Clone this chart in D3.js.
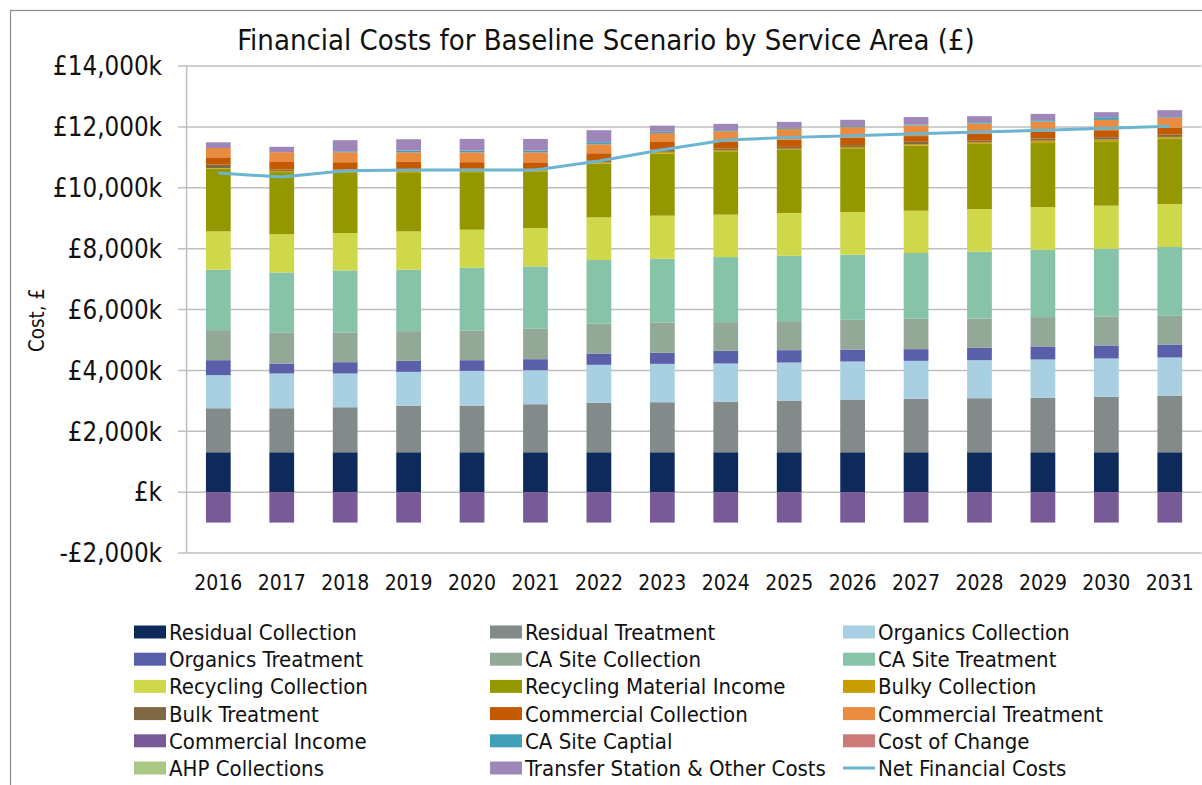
<!DOCTYPE html>
<html>
<head>
<meta charset="utf-8">
<script src="https://cdn.jsdelivr.net/npm/d3@7"></script>
<style>
  body { margin: 0; background: #fff; }
  text { font-family: "DejaVu Sans Condensed", "DejaVu Sans", Verdana, sans-serif; fill: #111; }
</style>
</head>
<body>
<script>
// data (values in £k)
var years = ["2016","2017","2018","2019","2020","2021","2022","2023","2024","2025","2026","2027","2028","2029","2030","2031"];

var residualCollection   = [1310,1310,1310,1310,1310,1310,1310,1310,1310,1310,1310,1310,1310,1310,1310,1310];
var residualTreatment    = [1446,1446,1479,1523,1534,1578,1622,1644,1665,1698,1731,1753,1775,1786,1819,1863];
var organicsCollection   = [1086,1141,1108,1118,1140,1118,1250,1261,1250,1250,1250,1250,1250,1261,1261,1250];
var organicsTreatment    = [493,328,372,362,351,362,372,361,417,406,395,384,406,428,428,427];
var caSiteCollection     = [987,1009,976,976,976,998,987,998,943,954,976,998,965,965,953,943];
var caSiteTreatment      = [1985,1985,2040,2018,2061,2050,2084,2094,2138,2149,2138,2160,2193,2215,2226,2259];
var recyclingCollection  = [1260,1261,1228,1260,1250,1261,1403,1415,1393,1404,1404,1392,1403,1403,1415,1415];
var recyclingIncome      = [2062,2034,1995,1919,1890,1845,1765,2039,2083,2072,2094,2139,2139,2105,2116,2149];
var bulkyCollection      = [20,40,50,65,70,45,50,60,35,40,40,45,55,75,55,55];
var bulkTreatment        = [110,45,40,45,40,50,60,70,55,60,60,80,55,68,77,76];
var commercialCollection = [241,247,241,252,219,219,230,252,219,241,242,186,219,219,230,220];
var commercialTreatment  = [307,323,329,318,325,329,296,296,351,351,351,351,340,340,340,329];
var commercialIncome     = [-1000,-1000,-1000,-1000,-1000,-1000,-1000,-1000,-1000,-1000,-1000,-1000,-1000,-1000,-1000,-1000];
var caSiteCapital        = [0,0,30,55,55,55,66,55,33,33,33,33,44,44,87,21];
var costOfChange         = [0,0,0,0,0,0,0,0,0,0,0,0,0,0,0,0];
var ahpCollections       = [0,0,0,0,0,0,0,0,0,0,0,0,0,0,0,0];
var transferStation      = [186,176,365,373,384,384,395,186,208,197,208,241,197,208,165,231];
var netFinancialCosts    = [10482,10351,10559,10581,10581,10581,10877,11250,11569,11655,11711,11776,11831,11886,11952,12017];

var yTicks = [-2000,0,2000,4000,6000,8000,10000,12000,14000];

var series = [
  {name:"Residual Collection", values:residualCollection, color:"#0e2a5b"},
  {name:"Residual Treatment", values:residualTreatment, color:"#828a8a"},
  {name:"Organics Collection", values:organicsCollection, color:"#a8cfe2"},
  {name:"Organics Treatment", values:organicsTreatment, color:"#5a5fa9"},
  {name:"CA Site Collection", values:caSiteCollection, color:"#94a897"},
  {name:"CA Site Treatment", values:caSiteTreatment, color:"#86c3a8"},
  {name:"Recycling Collection", values:recyclingCollection, color:"#cfd84a"},
  {name:"Recycling Material Income", values:recyclingIncome, color:"#949800"},
  {name:"Bulky Collection", values:bulkyCollection, color:"#c89d00"},
  {name:"Bulk Treatment", values:bulkTreatment, color:"#7d6944"},
  {name:"Commercial Collection", values:commercialCollection, color:"#c45900"},
  {name:"Commercial Treatment", values:commercialTreatment, color:"#e98b40"},
  {name:"Commercial Income", values:commercialIncome, color:"#775b97"},
  {name:"CA Site Captial", values:caSiteCapital, color:"#40a0b8"},
  {name:"Cost of Change", values:costOfChange, color:"#cc7977"},
  {name:"AHP Collections", values:ahpCollections, color:"#a9c883"},
  {name:"Transfer Station & Other Costs", values:transferStation, color:"#9e86b8"}
];

var W = 1202, H = 785;
var svg = d3.select("body").append("svg").attr("width", W).attr("height", H);

// outer frame
svg.append("rect").attr("x",10.5).attr("y",10.5).attr("width",1220).attr("height",800)
  .attr("fill","#fff").attr("stroke","#8a8a8a").attr("stroke-width",1.2);

var plotLeft = 186.6, plotRight = 1201.5, plotTop = 66, plotBottom = 553;

var x = d3.scaleBand().domain(years).range([plotLeft, plotRight]).paddingInner(0.61).paddingOuter(0.305);
var y = d3.scaleLinear().domain([-2000, 14000]).range([plotBottom, plotTop]);

// helper: font size so a sample string gets a given width
function fitSize(txt, target, base) {
  var t = svg.append("text").style("font-size", base + "px").text(txt);
  var w = t.node().getComputedTextLength();
  t.remove();
  return base * target / w;
}

function fmt(v) {
  if (v === 0) return "£k";
  return (v < 0 ? "-" : "") + "£" + d3.format(",")(Math.abs(v)) + "k";
}

// gridlines + y labels
var ySize = fitSize("£14,000k", 109, 20);
var grid = svg.append("g");
yTicks.forEach(function(t) {
  grid.append("line").attr("x1", 178).attr("x2", plotRight).attr("y1", y(t)).attr("y2", y(t))
    .attr("stroke", "#bfbfbf").attr("stroke-width", 1.5);
  svg.append("text").attr("x", 162).attr("y", y(t)).attr("dy", "0.36em")
    .attr("text-anchor", "end").style("font-size", ySize + "px").text(fmt(t));
});
grid.append("line").attr("x1", plotLeft).attr("x2", plotLeft).attr("y1", plotTop).attr("y2", plotBottom)
  .attr("stroke", "#bfbfbf").attr("stroke-width", 1.5);

// stacked bars
var table = years.map(function(yr, i) {
  var row = {year: yr};
  series.forEach(function(s) { row[s.name] = s.values[i]; });
  return row;
});
var stack = d3.stack().keys(series.map(function(s){ return s.name; }))
  .offset(d3.stackOffsetDiverging);
var layers = stack(table);

svg.append("g").selectAll("g").data(layers).enter().append("g")
  .attr("fill", function(d, i) { return series[i].color; })
  .selectAll("rect").data(function(d) { return d; }).enter().append("rect")
  .attr("x", function(d) { return x(d.data.year); })
  .attr("width", x.bandwidth())
  .attr("y", function(d) { return y(Math.max(d[0], d[1])); })
  .attr("height", function(d) { return Math.abs(y(d[0]) - y(d[1])); });

// net line
var line = d3.line()
  .x(function(d, i) { return x(years[i]) + x.bandwidth() / 2; })
  .y(function(d) { return y(d); });
svg.append("path").datum(netFinancialCosts).attr("d", line)
  .attr("fill", "none").attr("stroke", "#6cb5d0").attr("stroke-width", 3);

// x labels
var xSize = fitSize("2016", 48, 20);
svg.append("g").selectAll("text").data(years).enter().append("text")
  .attr("x", function(d) { return x(d) + x.bandwidth() / 2; })
  .attr("y", 590).attr("text-anchor", "middle").style("font-size", xSize + "px")
  .text(function(d) { return d; });

// title
var tSize = fitSize("Financial Costs for Baseline Scenario by Service Area (£)", 738, 22);
svg.append("text").attr("x", 606).attr("y", 50).attr("text-anchor", "middle")
  .style("font-size", tSize + "px").text("Financial Costs for Baseline Scenario by Service Area (£)");

// y axis title
var aSize = fitSize("Cost, £", 64, 20);
svg.append("text").attr("transform", "translate(37,320) rotate(-90)").attr("dy", "0.36em")
  .attr("text-anchor", "middle").style("font-size", aSize + "px").text("Cost, £");

// legend
var legItems = series.map(function(s) { return {name: s.name, color: s.color, kind: "box"}; });
legItems.push({name: "Net Financial Costs", color: "#6cb5d0", kind: "line"});
var colX = [134, 490, 843];
var lSize = fitSize("Residual Collection", 188, 19);
var leg = svg.append("g").selectAll("g").data(legItems).enter().append("g")
  .attr("transform", function(d, i) {
    return "translate(" + colX[i % 3] + "," + (632 + Math.floor(i / 3) * 27.2) + ")";
  });
leg.filter(function(d) { return d.kind === "box"; }).append("rect")
  .attr("x", 0).attr("y", -6.5).attr("width", 32).attr("height", 13)
  .attr("fill", function(d) { return d.color; });
leg.filter(function(d) { return d.kind === "line"; }).append("line")
  .attr("x1", 0).attr("x2", 32).attr("y1", 0).attr("y2", 0)
  .attr("stroke", function(d) { return d.color; }).attr("stroke-width", 3);
leg.append("text").attr("x", 35).attr("dy", "0.36em").style("font-size", lSize + "px")
  .text(function(d) { return d.name; });
</script>
</body>
</html>
